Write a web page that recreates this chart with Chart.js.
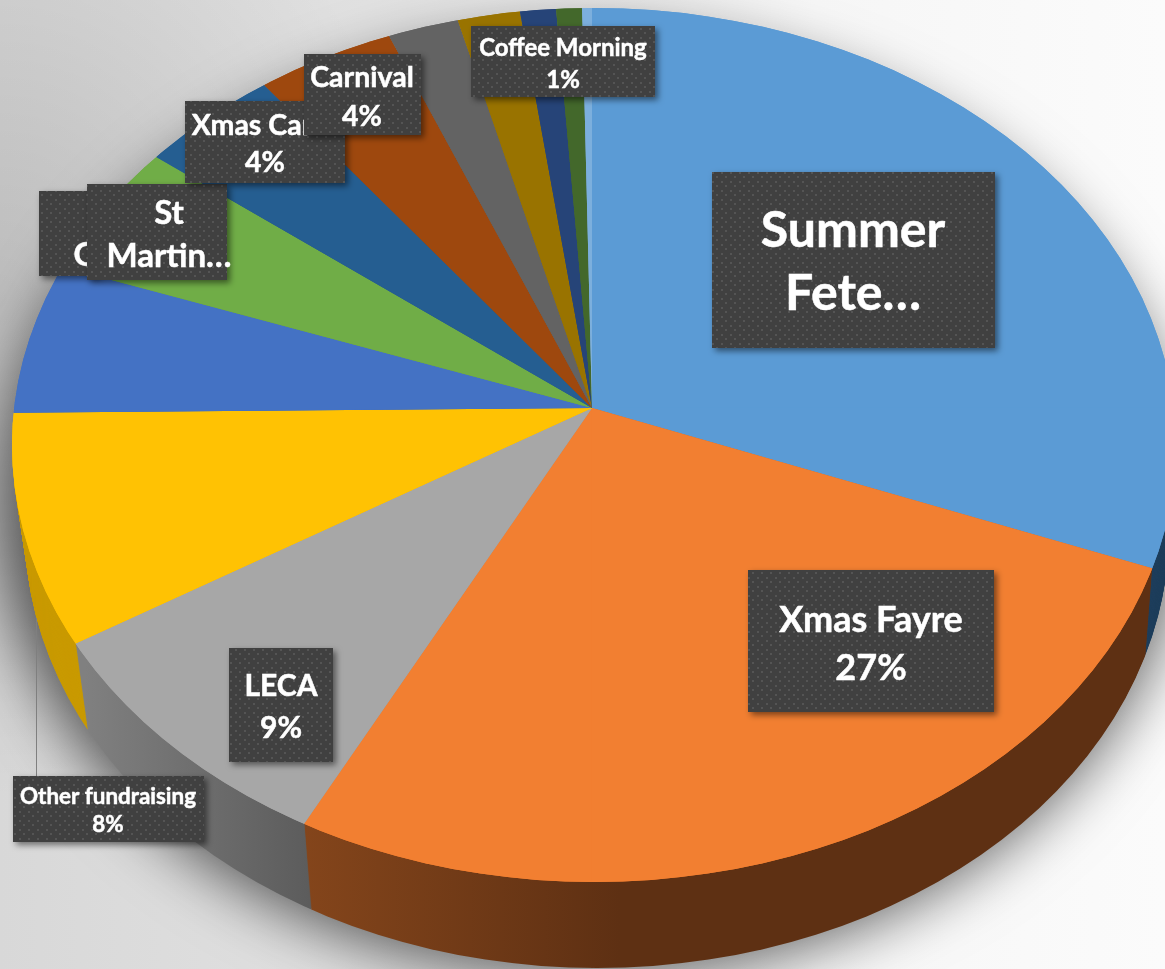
<!DOCTYPE html>
<html>
<head>
<meta charset="utf-8">
<title>Fundraising income</title>
<script src="https://cdn.jsdelivr.net/npm/chart.js@4"></script>
<style>
    html, body { margin: 0; padding: 0; width: 1165px; height: 969px; overflow: hidden; }
    body {
        background:
            radial-gradient(ellipse 420px 500px at 0px 300px, rgba(0,0,0,0.13), rgba(0,0,0,0) 100%),
            linear-gradient(90deg, #d8d8d8 0%, #e2e2e2 35%, #f6f6f6 70%, #fbfbfb 100%);
    }
    canvas { display: block; }
</style>
</head>
<body>
<canvas id="pie" width="1165" height="969"></canvas>
<script>
// Only some slice names can be read, the rest are hidden under other labels
const categories = ['Summer Fete', 'Xmas Fayre', 'LECA', 'Other fundraising', 'G', 'St Martin', 'Xmas Car',
    'Carnival', 'Unlabelled 1', 'Unlabelled 2', 'Coffee Morning', 'Unlabelled 3', 'Unlabelled 4'];
const shares = [30.4, 27.8, 8.7, 7.9, 6, 5.2, 4.2, 4, 2, 1.75, 1, 0.72, 0.27];
const sliceColors = ['#5B9BD5', '#F27F31', '#A7A7A7', '#FFC203', '#4472C4', '#70AD47', '#255E91',
    '#9E480E', '#636363', '#997300', '#264478', '#43682B', '#7CAFDD'];
const wallColors = ['#1F3F5C', '#5E3013', '#5C5C5C', '#C99A00', '#2A4577', '#466B2C', '#173A5A',
    '#622D09', '#3E3E3E', '#5F4700', '#18294A', '#2A411B', '#4D6D89'];

// Text shown in the boxes, drawn in this order so later boxes cover earlier ones
const labelLines = [
    ['Summer', 'Fete\u2026'],
    ['Xmas Fayre', '27%'],
    ['LECA', '9%'],
    ['Other fundraising', '8%'],
    ['G', ''],
    ['St', 'Martin\u2026'],
    ['Xmas Car', '4%'],
    ['Carnival', '4%'],
    ['Coffee Morning', '1%']
];
// x, y, w, h, font size, first line x, first line y, second line x, second line y
const labelBoxes = [
    [712, 172, 283, 176, 50, 853, 231, 853, 294],
    [748, 570, 246, 142, 36, 871, 620, 871, 668],
    [229, 648, 104, 114, 30, 281, 686, 281, 728],
    [13, 776, 191, 66, 22.4, 108, 797, 108, 825],
    [39, 191, 60, 85, 32, 85, 256, 85, 256],
    [87, 184, 140, 96, 33, 169, 213, 169, 256],
    [185, 101, 160, 82, 28.5, 252, 126, 265, 163],
    [304, 54, 117, 81, 28.5, 362, 78, 362, 117],
    [471, 26, 184, 71, 24, 563, 48, 563, 80]
];

// Rays leave the pie tip, stretched per quadrant, and the rim is clipped to the ellipse seen in the picture
const tip = { x: 592, y: 408 };
const radii = { left: 578, right: 588, up: 400, down: 475 };
const overshoot = 1.15;
const rimTop = { x: 594, y: 445, rx: 582, ry: 437 };
const rimBottom = { x: 597, y: 531, rx: 572, ry: 437 };
const wallDepth = 86;
const wallShrink = { left: 0.023, right: 0.013 };

function applyStretch(ctx, arc, rx, ry, drop) {
    const R = arc.outerRadius;
    ctx.translate(tip.x, tip.y + drop);
    ctx.scale(overshoot * rx / R, overshoot * ry / R);
    ctx.translate(-arc.x, -arc.y);
}

function clipQuadrant(ctx, side, vert, drop) {
    const x0 = side === 'left' ? 0 : tip.x - 0.5;
    const x1 = side === 'left' ? tip.x + 0.5 : 1165;
    const y0 = vert === 'up' ? 0 : tip.y + drop - 0.5;
    const y1 = vert === 'up' ? tip.y + 0.5 : 969;
    ctx.beginPath();
    ctx.rect(x0, y0, x1 - x0, y1 - y0);
    ctx.clip();
}

function clipRim(ctx, t) {
    ctx.beginPath();
    ctx.ellipse(rimTop.x + (rimBottom.x - rimTop.x) * t, rimTop.y + (rimBottom.y - rimTop.y) * t,
        rimTop.rx + (rimBottom.rx - rimTop.rx) * t, rimTop.ry, 0, 0, Math.PI * 2);
    ctx.clip();
}

function wallFill(ctx, index) {
    if (index === 1 || index === 2) {
        const g = index === 1 ? ctx.createLinearGradient(303, 0, 620, 0) : ctx.createLinearGradient(85, 0, 310, 0);
        g.addColorStop(0, index === 1 ? '#84451B' : '#808080');
        g.addColorStop(1, wallColors[index]);
        return g;
    }
    return wallColors[index];
}

function drawWalls(ctx, arcs) {
    for (let drop = wallDepth; drop >= 1; drop--) {
        ['left', 'right'].forEach((side) => {
            const rx = radii[side] * (1 - wallShrink[side] * drop / wallDepth);
            ctx.save();
            clipRim(ctx, drop / wallDepth);
            clipQuadrant(ctx, side, 'down', drop);
            arcs.forEach((arc, i) => {
                ctx.save();
                applyStretch(ctx, arc, rx, radii.down, drop);
                ctx.beginPath();
                ctx.moveTo(arc.x, arc.y);
                ctx.arc(arc.x, arc.y, arc.outerRadius, arc.startAngle, arc.endAngle);
                ctx.closePath();
                ctx.setTransform(1, 0, 0, 1, 0, 0);
                ctx.fillStyle = wallFill(ctx, i);
                ctx.fill();
                ctx.restore();
            });
            ctx.restore();
        });
    }
}

function drawFace(ctx, arcs) {
    ['up', 'down'].forEach((vert) => {
        ['left', 'right'].forEach((side) => {
            ctx.save();
            clipRim(ctx, 0);
            clipQuadrant(ctx, side, vert, 0);
            arcs.forEach((arc) => {
                ctx.save();
                applyStretch(ctx, arc, radii[side], radii[vert], 0);
                arc.draw(ctx);
                arc.draw(ctx);
                ctx.restore();
            });
            ctx.restore();
        });
    });
}

function dotPattern(ctx) {
    const tile = document.createElement('canvas');
    tile.width = 9;
    tile.height = 9;
    const t = tile.getContext('2d');
    t.fillStyle = '#404040';
    t.fillRect(0, 0, 9, 9);
    t.fillStyle = '#545454';
    t.fillRect(1, 1, 2, 2);
    t.fillRect(5, 5, 2, 2);
    return ctx.createPattern(tile, 'repeat');
}

const pie3d = {
    id: 'pie3d',
    beforeDatasetsDraw(chart) {
        const ctx = chart.ctx;
        const arcs = chart.getDatasetMeta(0).data;

        // Soft shadow under the pie, the shape itself stays off the canvas
        ctx.save();
        ctx.shadowColor = 'rgba(0,0,0,0.6)';
        ctx.shadowBlur = 60;
        ctx.shadowOffsetX = 3000;
        ctx.fillStyle = '#000';
        ctx.beginPath();
        ctx.ellipse(rimBottom.x - 3006, rimBottom.y - 25, rimBottom.rx + 20, rimBottom.ry + 34, 0, 0, Math.PI * 2);
        ctx.fill();
        ctx.restore();

        drawWalls(ctx, arcs);
        drawFace(ctx, arcs);
        return false;
    },
    afterDraw(chart) {
        const ctx = chart.ctx;
        const pattern = dotPattern(ctx);

        // Leader line of the Other fundraising label
        ctx.strokeStyle = '#7F7F7F';
        ctx.lineWidth = 1;
        ctx.beginPath();
        ctx.moveTo(36.5, 618);
        ctx.lineTo(36.5, 776);
        ctx.stroke();

        labelBoxes.forEach((box, i) => {
            const [x, y, w, h, size, x1, y1, x2, y2] = box;
            ctx.save();
            ctx.shadowColor = 'rgba(0,0,0,0.5)';
            ctx.shadowBlur = 6;
            ctx.shadowOffsetX = 3;
            ctx.shadowOffsetY = 3;
            ctx.fillStyle = pattern;
            ctx.fillRect(x, y, w, h);
            ctx.restore();

            ctx.fillStyle = '#FFFFFF';
            ctx.strokeStyle = '#FFFFFF';
            ctx.lineWidth = 0.5;
            ctx.font = 'bold ' + size + 'px Lato';
            ctx.textAlign = 'center';
            ctx.textBaseline = 'middle';
            ctx.fillText(labelLines[i][0], x1, y1);
            ctx.strokeText(labelLines[i][0], x1, y1);
            if (labelLines[i][1]) {
                ctx.fillText(labelLines[i][1], x2, y2);
                ctx.strokeText(labelLines[i][1], x2, y2);
            }
        });
    }
};

new Chart(document.getElementById('pie'), {
    type: 'pie',
    data: {
        labels: categories,
        datasets: [{
            data: shares,
            backgroundColor: sliceColors,
            borderWidth: 0
        }]
    },
    options: {
        responsive: false,
        animation: false,
        plugins: {
            legend: { display: false },
            tooltip: { enabled: false }
        }
    },
    plugins: [pie3d]
});
</script>
</body>
</html>
